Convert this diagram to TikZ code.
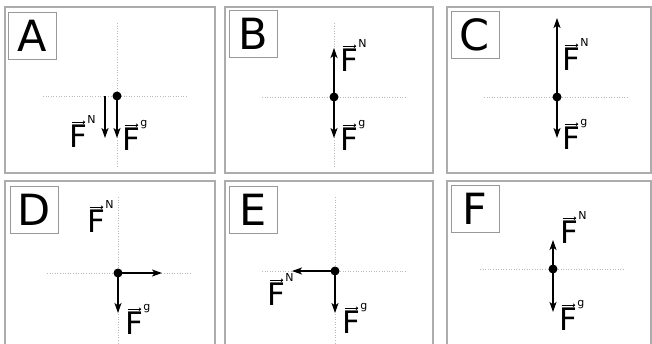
\documentclass[tikz,border=0pt]{standalone}
\usepackage{fontspec}
\setmainfont{DejaVu Sans}
\usetikzlibrary{arrows.meta}
\tikzset{
 panel/.style={draw=gray!65, line width=1.3pt},
 tagbox/.style={draw=gray!80, line width=0.8pt, minimum width=48pt, minimum height=47pt, inner sep=0pt, font=\fontsize{43}{43}\selectfont},
 axis/.style={gray!55, dotted, line width=0.6pt},
 dot/.style={circle, fill=black, inner sep=0pt, minimum size=9pt},
 force/.style={line width=1.3pt, -{Stealth[length=10pt,width=7pt,inset=2.5pt]}},
 flab/.style={inner sep=0pt, font=\fontsize{31}{31}\selectfont},
 suplab/.style={inner sep=0pt, font=\fontsize{11}{11}\selectfont},
 vecarr/.style={line width=0.7pt, -{To[length=2.5pt,width=3.5pt]}},
}
\newcommand\flabel[3]{%
 \node[flab, anchor=base west] (#1) at #2 {F};
 \draw[vecarr] ([yshift=2pt,xshift=2.5pt]#1.north west) -- ([yshift=2pt,xshift=-2pt]#1.north east);
 \node[suplab, anchor=base west] (#1s) at ([xshift=0pt,yshift=1pt]#1.north east) {#3};
}
\begin{document}
\begin{tikzpicture}[x=1pt,y=-1pt]
\useasboundingbox (0,0) rectangle (652,343);
\clip (0,0) rectangle (652,343);
% panels
\draw[panel] (5,7) rectangle (215,173);
\draw[panel] (225,7) rectangle (433,173);
\draw[panel] (447,7) rectangle (651,173);
\draw[panel] (5,181) rectangle (215,360);
\draw[panel] (225,181) rectangle (433,360);
\draw[panel] (447,181) rectangle (651,360);
% tags
\node[tagbox] (tA) at (32,35.5) {A};
\node[tagbox] (tB) at (253.5,34) {B};
\node[tagbox] (tC) at (475,35) {C};
\node[tagbox] (tD) at (34,210) {D};
\node[tagbox] (tE) at (253.5,210) {E};
\node[tagbox] (tF) at (475,209) {F};
% axes
\draw[axis] (43,96) -- (188,96); \draw[axis] (117,23) -- (117,167);
\draw[axis] (262,97) -- (407,97); \draw[axis] (334,23) -- (334,167);
\draw[axis] (484,97) -- (628,97);
\draw[axis] (47,273) -- (192,273); \draw[axis] (118,197) -- (118,343);
\draw[axis] (262,271) -- (407,271); \draw[axis] (335,197) -- (335,343);
\draw[axis] (480,269) -- (625,269);
% A
\node[dot] (dA) at (117,96) {};
\coordinate (sA) at (105,96);
\coordinate (eA1) at (105,138);
\coordinate (eA2) at (117,138);
\draw[force] (sA) -- (eA1);
\draw[force] (dA.center) -- (eA2);
\flabel{nA}{(69,147)}{N}
\flabel{gA}{(122,150)}{g}
% B
\node[dot] (dB) at (334,97) {};
\coordinate (uB) at (334,48);
\coordinate (wB) at (334,138);
\draw[force] (dB.center) -- (uB);
\draw[force] (dB.center) -- (wB);
\flabel{nB}{(340,71)}{N}
\flabel{gB}{(340,150)}{g}
% C
\node[dot] (dC) at (557,97) {};
\coordinate (uC) at (557,18);
\coordinate (wC) at (557,138);
\draw[force] (dC.center) -- (uC);
\draw[force] (dC.center) -- (wC);
\flabel{nC}{(562,70)}{N}
\flabel{gC}{(562,149)}{g}
% D
\node[dot] (dD) at (118,273) {};
\coordinate (rD) at (162,273);
\coordinate (wD) at (118,313);
\draw[force] (dD.center) -- (rD);
\draw[force] (dD.center) -- (wD);
\flabel{nD}{(87,232)}{N}
\flabel{gD}{(125,334)}{g}
% E
\node[dot] (dE) at (335,271) {};
\coordinate (lE) at (292,271);
\coordinate (wE) at (335,313);
\draw[force] (dE.center) -- (lE);
\draw[force] (dE.center) -- (wE);
\flabel{nE}{(267,305)}{N}
\flabel{gE}{(342,333)}{g}
% F
\node[dot] (dF) at (553,269) {};
\coordinate (uF) at (553,240);
\coordinate (wF) at (553,312);
\draw[force] (dF.center) -- (uF);
\draw[force] (dF.center) -- (wF);
\flabel{nF}{(560,243)}{N}
\flabel{gF}{(559,330)}{g}
\end{tikzpicture}
\end{document}
